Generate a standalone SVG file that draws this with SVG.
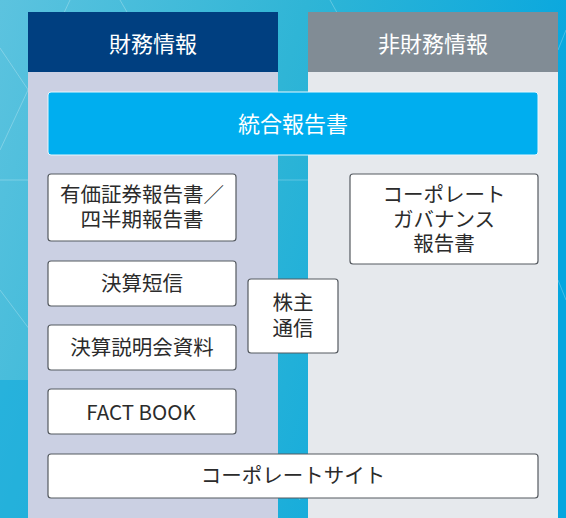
<svg xmlns="http://www.w3.org/2000/svg" width="566" height="518" viewBox="0 0 566 518">
<defs>
<linearGradient id="bg" x1="0" y1="0" x2="1" y2="0.3">
<stop offset="0" stop-color="#5cc3df"/>
<stop offset="0.5" stop-color="#2fb5d6"/>
<stop offset="1" stop-color="#05a6df"/>
</linearGradient>
<style>
.hdr{font-family:"Noto Sans CJK JP","Noto Sans",sans-serif;font-size:22px;fill:#ffffff;text-anchor:middle}
.box{fill:#ffffff;stroke:#555a60;stroke-width:1.2}
.t{font-family:"Noto Sans CJK JP","Noto Sans",sans-serif;font-size:20.5px;fill:#2b2b2b;text-anchor:middle}
.ln{stroke:#ffffff;stroke-opacity:0.25;stroke-width:1;fill:none}
</style>
</defs>
<rect x="0" y="0" width="566" height="518" fill="url(#bg)"/>
<path class="ln" d="M70 0 L0 150 M0 48 L35 100 M120 0 L175 95 M330 0 L380 90 M0 180 L28 180 M278 180 L308 180 M0 290 L30 330 M278 460 L300 500 M558 280 L566 300 M558 50 L566 30"/>
<rect x="0" y="380" width="28" height="138" fill="#11aadc" opacity="0.6"/>
<g id="col-fin">
<rect x="28" y="12" width="250" height="60" fill="#003f80"/>
<rect x="28" y="72" width="250" height="446" fill="#cbd0e3"/>
<text class="hdr" x="153" y="52">財務情報</text>
</g>
<g id="col-nonfin">
<rect x="308" y="12" width="250" height="60" fill="#818c95"/>
<rect x="308" y="72" width="250" height="446" fill="#e6e9ed"/>
<text class="hdr" x="433" y="52">非財務情報</text>
</g>
<g id="connectors"></g>
<g id="integrated">
<rect x="48" y="92" width="490" height="63" rx="3" fill="#00aeef" stroke="#e8f7fd" stroke-width="1"/>
<text class="hdr" x="293" y="132">統合報告書</text>
</g>
<g id="yuho">
<rect class="box" x="48" y="174" width="188" height="67" rx="3"/>
<text class="t" x="142" y="202">有価証券報告書／</text>
<text class="t" x="142" y="227">四半期報告書</text>
</g>
<g id="tanshin">
<rect class="box" x="48" y="261" width="188" height="45" rx="3"/>
<text class="t" x="142" y="291">決算短信</text>
</g>
<g id="setsumei">
<rect class="box" x="48" y="325" width="188" height="45" rx="3"/>
<text class="t" x="142" y="355">決算説明会資料</text>
</g>
<g id="factbook">
<rect class="box" x="48" y="389" width="188" height="45" rx="3"/>
<text class="t" x="141" y="420" font-family="Lato,'Noto Sans',sans-serif" font-size="24.5">FACT BOOK</text>
</g>
<g id="kabunushi">
<rect class="box" x="248" y="279" width="90" height="74" rx="3"/>
<text class="t" x="293" y="310">株主</text>
<text class="t" x="293" y="336">通信</text>
</g>
<g id="cg">
<rect class="box" x="350" y="174" width="188" height="90" rx="3"/>
<text class="t" x="444" y="202">コーポレート</text>
<text class="t" x="444" y="227">ガバナンス</text>
<text class="t" x="444" y="251">報告書</text>
</g>
<g id="site">
<rect class="box" x="48" y="454" width="490" height="44" rx="3"/>
<text class="t" x="293" y="483">コーポレートサイト</text>
</g>
</svg>
